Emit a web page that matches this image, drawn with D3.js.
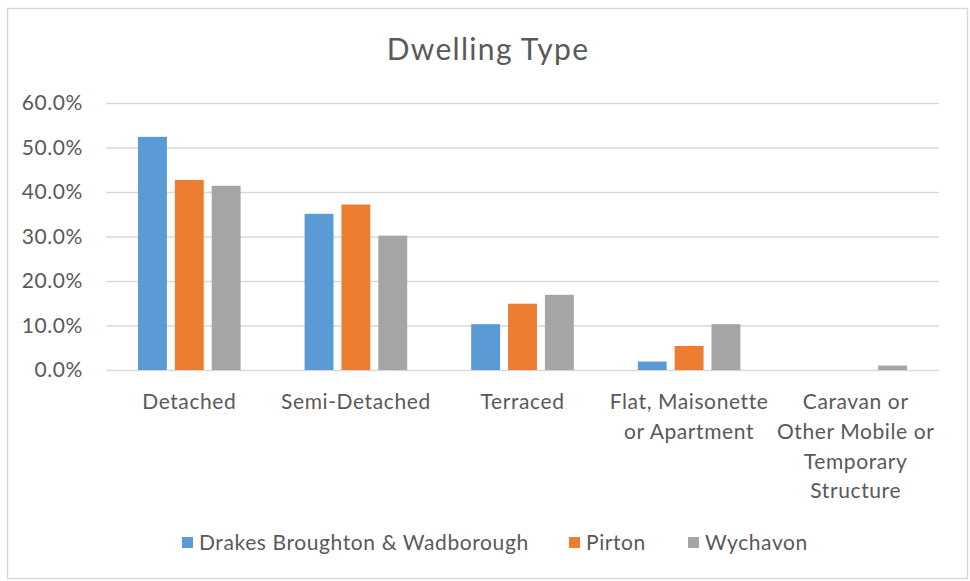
<!DOCTYPE html>
<html lang="en">
<head>
    <meta charset="UTF-8">
    <title>Dwelling Type</title>
    <script src="https://d3js.org/d3.v7.min.js"></script>
    <style>
        body { margin: 0; background: #fff; }
        text { font-family: Lato, "Open Sans", sans-serif; fill: #595959; letter-spacing: 0.6px; }
        .grid line { stroke: #d9d9d9; stroke-width: 1.5px; }
    </style>
</head>
<body>
    <div id="chart"></div>
    <script>
        // category labels (line breaks as in the original)
        var categories = [
            ["Detached"],
            ["Semi-Detached"],
            ["Terraced"],
            ["Flat, Maisonette", "or Apartment"],
            ["Caravan or", "Other Mobile or", "Temporary", "Structure"]
        ];
        var seriesNames = ["Drakes Broughton & Wadborough", "Pirton", "Wychavon"];
        var seriesColors = ["#5b9bd5", "#ed7d31", "#a5a5a5"];

        // values in percent
        var drakesBroughton = [52.4, 35.1, 10.3, 1.9, 0.0];
        var pirton = [42.7, 37.2, 14.9, 5.4, 0.0];
        var wychavon = [41.4, 30.2, 16.9, 10.3, 1.0];
        var yTicks = [0, 10, 20, 30, 40, 50, 60];

        var series = [drakesBroughton, pirton, wychavon];
        var width = 970, height = 581;
        var plot = { left: 106, right: 939, top: 103, bottom: 370 };

        var svg = d3.select("#chart").append("svg")
            .attr("width", width)
            .attr("height", height);

        svg.append("rect")
            .attr("x", 7.5).attr("y", 8.5)
            .attr("width", 960).attr("height", 570)
            .attr("fill", "#fff")
            .attr("stroke", "#d9d9d9")
            .attr("stroke-width", 1.5);

        svg.append("text")
            .attr("x", 488).attr("y", 60)
            .attr("text-anchor", "middle")
            .style("font-size", "30px")
            .style("letter-spacing", "1.3px")
            .text("Dwelling Type");

        var x0 = d3.scaleBand()
            .domain(d3.range(categories.length))
            .range([plot.left, plot.right]);

        var x1 = d3.scaleBand()
            .domain(d3.range(series.length))
            .range([32, x0.bandwidth() - 32])
            .paddingInner(0.216);

        var y = d3.scaleLinear()
            .domain([0, 60])
            .range([plot.bottom, plot.top]);

        // gridlines
        svg.append("g")
            .attr("class", "grid")
            .attr("transform", `translate(${plot.left},0)`)
            .call(d3.axisLeft(y).tickValues(yTicks).tickSize(-(plot.right - plot.left)).tickFormat(""))
            .call(g => g.select(".domain").remove());

        // y tick labels
        svg.append("g")
            .selectAll("text")
            .data(yTicks)
            .enter().append("text")
            .attr("x", 83)
            .attr("y", d => y(d))
            .attr("dy", "0.35em")
            .attr("text-anchor", "end")
            .style("font-size", "21px")
            .text(d => d.toFixed(1) + "%");

        // bars
        var groups = svg.append("g")
            .selectAll("g")
            .data(categories.map((c, i) => i))
            .enter().append("g")
            .attr("transform", i => `translate(${x0(i)},0)`);

        groups.selectAll("rect")
            .data(i => series.map((s, k) => ({ k: k, v: s[i] })))
            .enter().append("rect")
            .attr("x", d => x1(d.k))
            .attr("width", x1.bandwidth())
            .attr("y", d => y(d.v))
            .attr("height", d => y(0) - y(d.v))
            .attr("fill", d => seriesColors[d.k]);

        // category labels
        var labels = svg.append("g")
            .selectAll("text")
            .data(categories)
            .enter().append("text")
            .attr("text-anchor", "middle")
            .attr("transform", (d, i) => `translate(${x0(i) + x0.bandwidth() / 2},409)`)
            .style("font-size", "21px");

        labels.selectAll("tspan")
            .data(d => d)
            .enter().append("tspan")
            .attr("x", 0)
            .attr("y", (d, j) => j * 29.8)
            .text(d => d);

        // legend
        var legendX = [182, 569, 688];
        var legend = svg.append("g")
            .selectAll("g")
            .data(seriesNames)
            .enter().append("g")
            .attr("transform", (d, i) => `translate(${legendX[i]},543)`);

        legend.append("rect")
            .attr("x", 0).attr("y", -6)
            .attr("width", 11).attr("height", 11)
            .attr("fill", (d, i) => seriesColors[i]);

        legend.append("text")
            .attr("x", 17)
            .attr("dy", "0.35em")
            .style("font-size", "21px")
            .text(d => d);
    </script>
</body>
</html>
